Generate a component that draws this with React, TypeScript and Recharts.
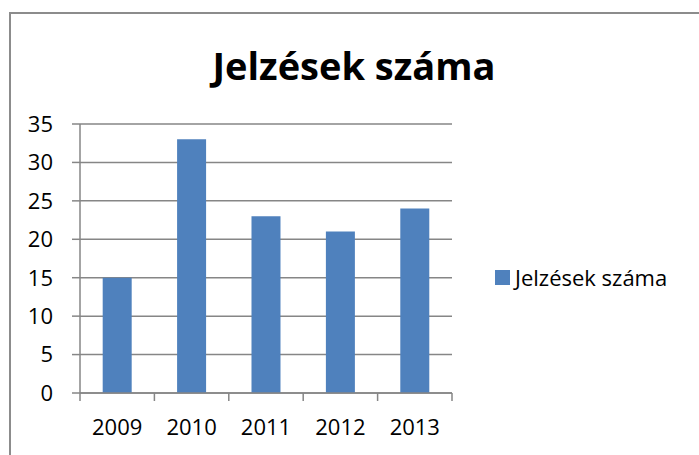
import React from "react";
import {Bar, BarChart, CartesianGrid, XAxis, YAxis} from "recharts";

const years = ["2009", "2010", "2011", "2012", "2013"];
const counts = [15, 33, 23, 21, 24];
const yTicks = [0, 5, 10, 15, 20, 25, 30, 35];
const seriesName = "Jelzések száma";

const chartData = years.map((year, i) => ({year, value: counts[i]}));

const FONT = "'Open Sans', sans-serif";
const GRAY = "#868686";
const BLUE = "#4f81bd";

const YearTick = (props: any) => {
  const {x, y, payload, index, visibleTicksCount} = props;
  const half = payload.offset || 0;
  return (
    <g>
      <line x1={x - half} x2={x - half} y1={y - 8} y2={y} stroke={GRAY} strokeWidth={1.5}/>
      {index === visibleTicksCount - 1 && (
        <line x1={x + half} x2={x + half} y1={y - 8} y2={y} stroke={GRAY} strokeWidth={1.5}/>
      )}
      <text x={x} y={y + 34} textAnchor="middle" fontFamily={FONT} fontSize={22} fill="#000">
        {payload.value}
      </text>
    </g>
  );
};

const App: React.FC = () => {
  return (
    <div style={{position: "absolute", left: 0, top: 0, width: 699, height: 455, overflow: "hidden", background: "#fff"}}>
      <div style={{position: "absolute", left: 9, top: 12, width: 720, height: 500, border: "2px solid #8c8c8c"}}/>
      <div style={{
        position: "absolute", left: 0, top: 39, width: 708, textAlign: "center",
        fontFamily: FONT, fontWeight: 700, fontSize: 38, color: "#000",
      }}>
        {seriesName}
      </div>
      <div style={{position: "absolute", left: 0, top: 0}}>
        <BarChart
          width={699}
          height={455}
          data={chartData}
          margin={{top: 124, right: 247, bottom: 22, left: 20}}
          barCategoryGap="30.5%"
        >
          <CartesianGrid vertical={false} stroke={GRAY} strokeWidth={1.5}/>
          <XAxis
            dataKey="year"
            height={40}
            axisLine={{stroke: GRAY, strokeWidth: 1.5}}
            tickLine={false}
            tick={<YearTick/>}
            interval={0}
          />
          <YAxis
            width={60}
            domain={[0, 35]}
            ticks={yTicks}
            interval={0}
            axisLine={{stroke: GRAY, strokeWidth: 1.5}}
            tickLine={{stroke: GRAY, strokeWidth: 1.5}}
            tickSize={8}
            tickMargin={19}
            tick={{fontFamily: FONT, fontSize: 22, fill: "#000"}}
          />
          <Bar dataKey="value" name={seriesName} fill={BLUE} isAnimationActive={false}/>
        </BarChart>
      </div>
      <div style={{
        position: "absolute", left: 495, top: 262, display: "flex", alignItems: "center",
        fontFamily: FONT, fontSize: 22, color: "#000", whiteSpace: "nowrap",
      }}>
        <span style={{display: "inline-block", width: 15, height: 15, background: BLUE, marginRight: 5}}/>
        {seriesName}
      </div>
    </div>
  );
};

export default App;
